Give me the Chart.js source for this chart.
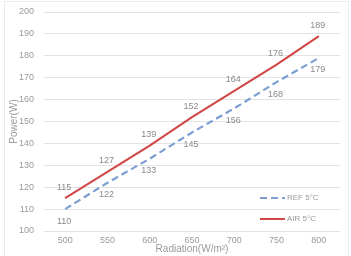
<!DOCTYPE html>
<html>
<head>
<meta charset="utf-8">
<script src="https://cdn.jsdelivr.net/npm/chart.js@4.4.0/dist/chart.umd.min.js"></script>
<style>
  html, body { margin: 0; padding: 0; background: #fff; }
  #wrap { width: 351px; height: 256px; position: relative; }
</style>
</head>
<body>
<div id="wrap"><canvas id="powerChart"></canvas></div>
<script>
// radiation levels on the x axis
const radiation = ['500', '550', '600', '650', '700', '750', '800'];
// power output per series
const refPower = [110, 122, 133, 145, 156, 168, 179];
const airPower = [115, 127, 139, 152, 164, 176, 189];
const seriesNames = ['REF 5°C', 'AIR 5°C'];

const textColor = '#9a9a9a';
const fontFamily = 'Liberation Sans, Arial, sans-serif';

// value labels: AIR above its points, REF below
const valueLabels = {
    id: 'valueLabels',
    afterDatasetsDraw(chart) {
        const ctx = chart.ctx;
        ctx.save();
        ctx.font = '9px ' + fontFamily;
        ctx.fillStyle = '#8a8a8a';
        ctx.textAlign = 'center';
        ctx.textBaseline = 'middle';
        chart.data.datasets.forEach((ds, i) => {
            const meta = chart.getDatasetMeta(i);
            const dy = i === 0 ? 12 : -11;
            meta.data.forEach((pt, j) => {
                ctx.fillText(String(ds.data[j]), pt.x - 1, pt.y + dy);
            });
        });
        ctx.restore();
    }
};

// legend drawn inside the plot, bottom right
const innerLegend = {
    id: 'innerLegend',
    afterDraw(chart) {
        const ctx = chart.ctx;
        const area = chart.chartArea;
        ctx.save();
        ctx.font = '8px ' + fontFamily;
        ctx.textBaseline = 'middle';
        chart.data.datasets.forEach((ds, i) => {
            const y = area.bottom - 33 + i * 21;
            const x0 = area.right - 80;
            ctx.strokeStyle = ds.borderColor;
            ctx.lineWidth = ds.borderWidth;
            ctx.setLineDash(ds.borderDash || []);
            ctx.beginPath();
            ctx.moveTo(x0, y);
            ctx.lineTo(x0 + 25, y);
            ctx.stroke();
            ctx.setLineDash([]);
            ctx.fillStyle = textColor;
            ctx.fillText(ds.label, x0 + 27, y);
        });
        // faint chart frame
        ctx.strokeStyle = '#ececec';
        ctx.lineWidth = 1;
        ctx.strokeRect(4.5, 1.5, 344, 262);
        ctx.restore();
    }
};

const ctx = document.getElementById('powerChart');
new Chart(ctx, {
    type: 'line',
    data: {
        labels: radiation,
        datasets: [
            {
                label: seriesNames[0],
                data: refPower,
                borderColor: '#7b9fd3',
                borderWidth: 2.2,
                borderDash: [7, 4],
                pointRadius: 0,
                fill: false,
                tension: 0
            },
            {
                label: seriesNames[1],
                data: airPower,
                borderColor: '#d24545',
                borderWidth: 2,
                pointRadius: 0,
                fill: false,
                tension: 0
            }
        ]
    },
    options: {
        responsive: true,
        maintainAspectRatio: false,
        animation: false,
        layout: { padding: { left: 6, right: 11, top: 12, bottom: 0 } },
        plugins: {
            legend: { display: false },
            tooltip: { enabled: false }
        },
        scales: {
            x: {
                offset: true,
                grid: { display: false, drawTicks: false },
                border: { display: false },
                ticks: {
                    color: textColor,
                    font: { size: 9, family: fontFamily },
                    padding: 4,
                    maxRotation: 0
                },
                title: {
                    display: true,
                    text: 'Radiation(W/m²)',
                    color: textColor,
                    font: { size: 10, family: fontFamily },
                    padding: { top: -4, bottom: 1 }
                },
                afterFit(scale) { scale.height = 25; }
            },
            y: {
                min: 100,
                max: 200,
                ticks: {
                    stepSize: 10,
                    color: textColor,
                    font: { size: 9, family: fontFamily },
                    padding: 10
                },
                grid: { color: '#e3e3e3', drawTicks: false },
                border: { display: false },
                title: {
                    display: true,
                    text: 'Power(W)',
                    color: textColor,
                    font: { size: 10, family: fontFamily },
                    padding: { top: 2, bottom: 0 }
                },
                afterFit(scale) {
                    scale.width = 38;
                    scale.paddingTop = 0;
                    scale.paddingBottom = 0;
                }
            }
        }
    },
    plugins: [valueLabels, innerLegend]
});
</script>
</body>
</html>
